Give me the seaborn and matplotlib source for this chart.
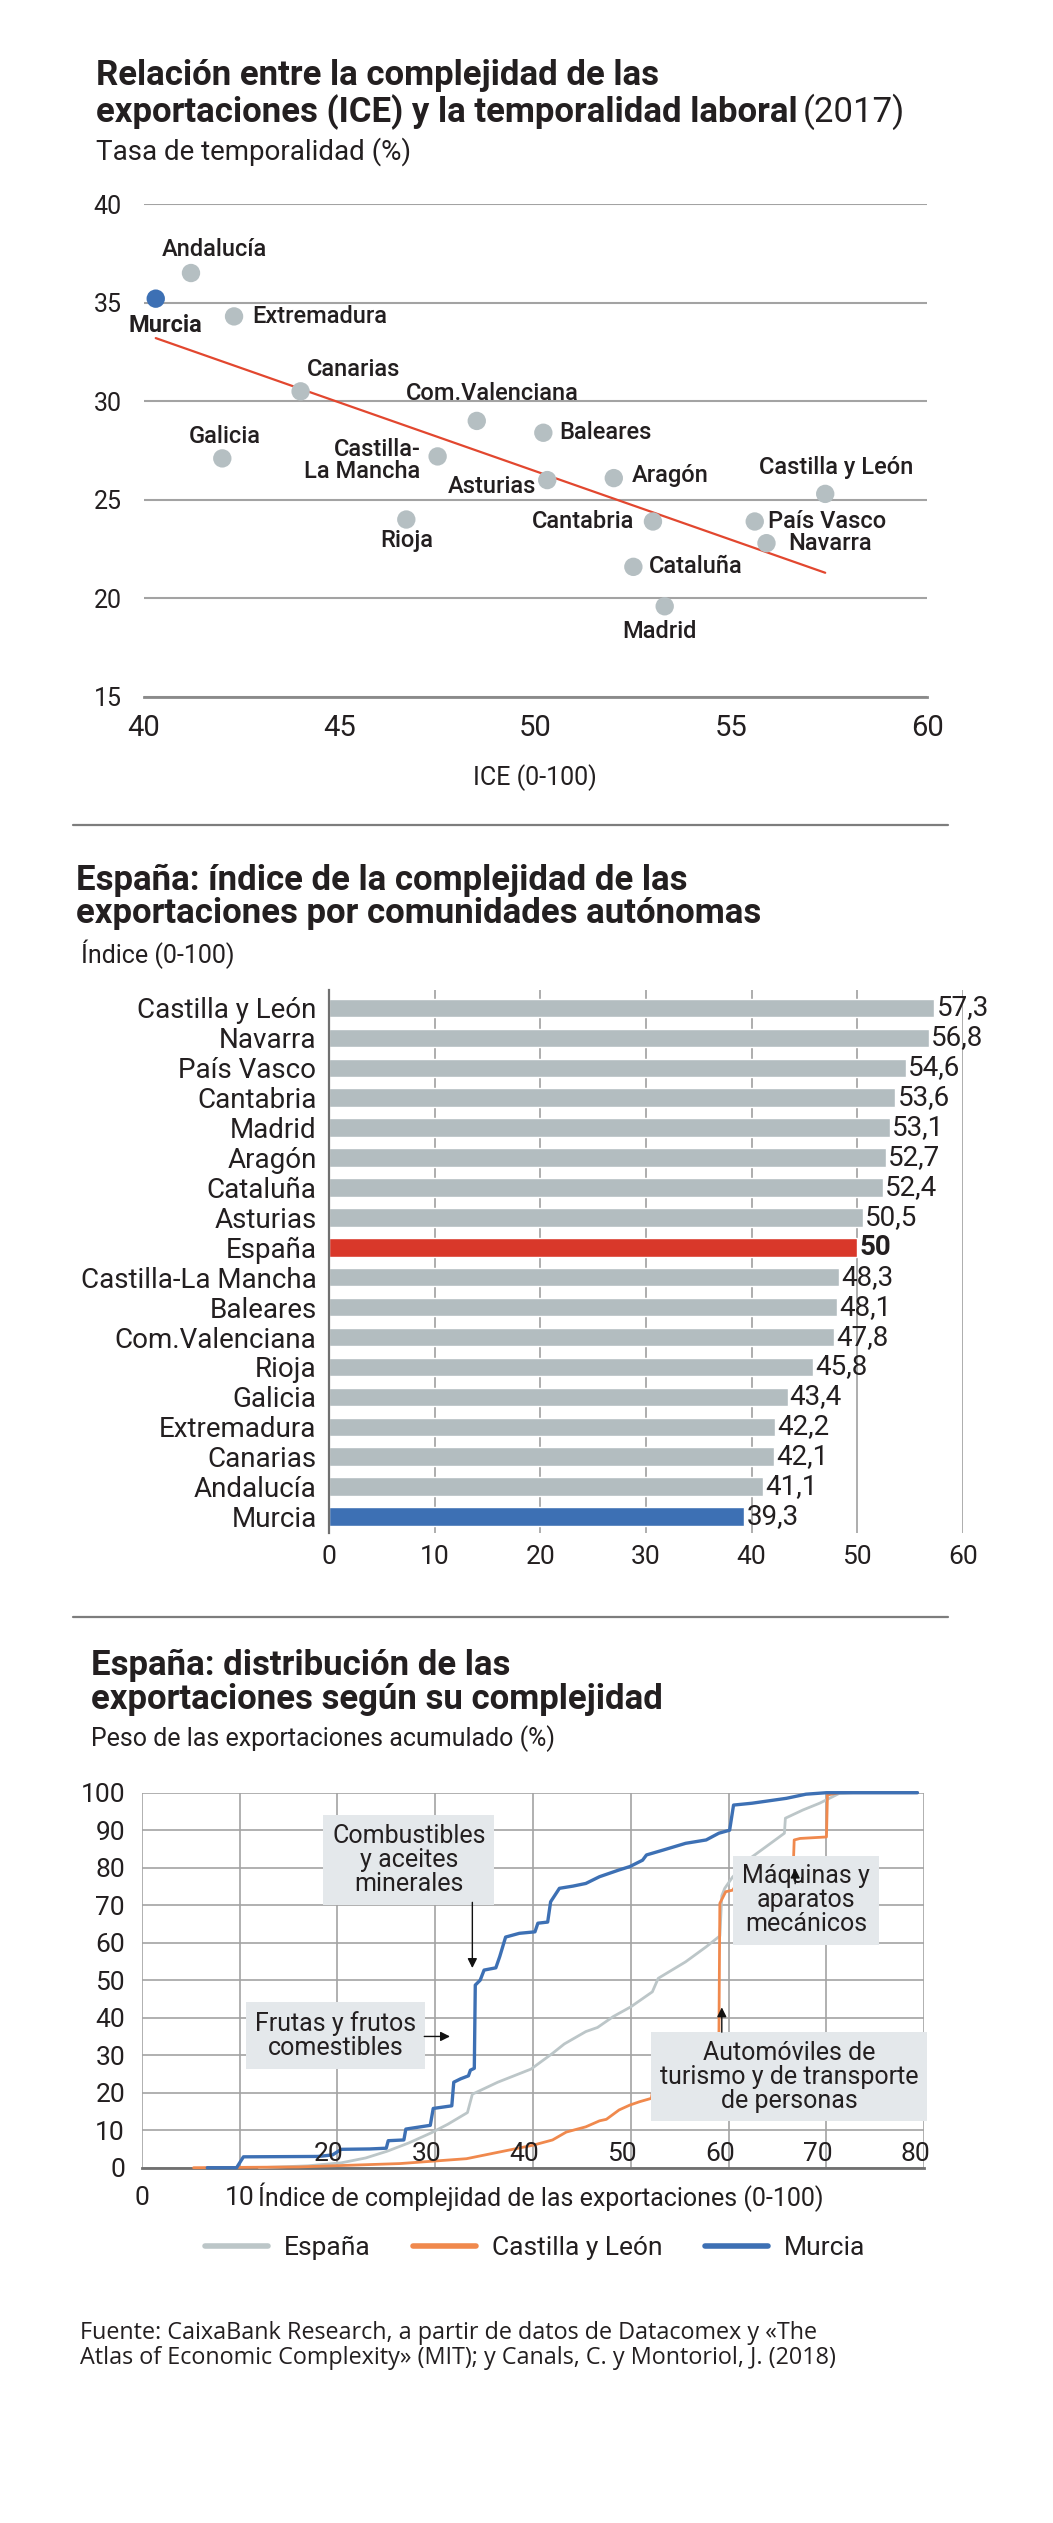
import numpy as np
import pandas as pd
import seaborn as sns
import matplotlib.pyplot as plt
from matplotlib.lines import Line2D

# ---- datos: dispersión ICE / temporalidad ----
regiones_sc = ['Murcia', 'Andalucía', 'Extremadura', 'Canarias', 'Galicia', 'Com.Valenciana',
               'Castilla-\nLa Mancha', 'Baleares', 'Asturias', 'Aragón', 'Rioja', 'Cantabria',
               'Cataluña', 'Madrid', 'Castilla y León', 'País Vasco', 'Navarra']
ice_sc = [40.3, 41.2, 42.3, 44.0, 42.0, 48.5, 47.5, 50.2, 50.3, 52.0, 46.7, 53.0, 52.5, 53.3, 57.4, 55.6, 55.9]
temporalidad = [35.2, 36.5, 34.3, 30.5, 27.1, 29.0, 27.2, 28.4, 26.0, 26.1, 24.0, 23.9, 21.6, 19.6, 25.3, 23.9, 22.8]
tendencia_x = [40.3, 57.4]
tendencia_y = [33.2, 21.3]

# ---- datos: barras ----
regiones_bar = ['Castilla y León', 'Navarra', 'País Vasco', 'Cantabria', 'Madrid', 'Aragón', 'Cataluña',
                'Asturias', 'España', 'Castilla-La Mancha', 'Baleares', 'Com.Valenciana', 'Rioja', 'Galicia',
                'Extremadura', 'Canarias', 'Andalucía', 'Murcia']
ice_bar = [57.3, 56.8, 54.6, 53.6, 53.1, 52.7, 52.4, 50.5, 50, 48.3, 48.1, 47.8, 45.8, 43.4, 42.2, 42.1, 41.1, 39.3]

# ---- datos: curvas acumuladas ----
murcia_x = [6.7, 9.7, 10.4, 18.0, 19.5, 20.4, 23.3, 25.0, 25.2, 26.8, 27.0, 29.5, 29.8, 31.7, 31.9, 32.6, 33.4,
            33.6, 34.0, 34.1, 34.6, 35.0, 36.2, 36.6, 37.2, 38.6, 40.2, 40.5, 41.5, 41.8, 42.7, 44.1, 45.4, 46.8,
            48.8, 49.9, 51.2, 51.6, 53.3, 55.6, 57.7, 59.0, 60.1, 60.5, 62.4, 65.9, 67.9, 70.0, 79.3]
murcia_y = [0, 0, 2.9, 3.0, 3.4, 4.9, 5.0, 5.2, 7.2, 7.4, 10.3, 11.3, 15.8, 16.5, 22.8, 23.7, 24.5,
            26.0, 26.5, 48.7, 50.0, 52.7, 53.3, 56.3, 61.5, 62.5, 62.9, 65.2, 65.5, 70.9, 74.5, 75.1, 75.8, 77.6,
            79.4, 80.3, 82.0, 83.4, 84.7, 86.5, 87.4, 89.2, 90.0, 96.7, 97.2, 98.5, 99.6, 100, 100]
espana_x = [12.0, 17.0, 20.4, 22.9, 25.1, 27.3, 29.6, 31.3, 33.3, 33.8, 36.4, 39.8, 42.0, 43.2, 45.4, 46.6,
            48.2, 50.0, 52.2, 52.8, 55.6, 57.7, 59.1, 59.3, 59.6, 60.4, 62.4, 64.5, 65.7, 65.8, 67.6, 69.3,
            71.3, 72.7, 79.3]
espana_y = [0, 0.5, 1.3, 2.6, 4.4, 6.6, 9.3, 11.6, 14.7, 19.6, 22.8, 26.3, 30.5, 33.0, 36.3, 37.4,
            40.3, 42.9, 46.9, 50.5, 54.9, 58.9, 61.8, 72.5, 74.5, 77.5, 82.9, 86.9, 89.2, 93.2, 95.4, 97.2,
            99.8, 100, 100]
cyl_x = [5.3, 16.0, 26.4, 33.2, 36.6, 40.0, 42.0, 43.4, 45.4, 46.8, 47.5, 48.8, 49.9, 50.9, 52.1, 52.4, 52.8,
         53.3, 55.0, 57.0, 59.0, 59.1, 59.7, 60.4, 61.1, 63.0, 65.0, 66.6, 66.7, 67.3, 70.0, 70.1, 71.3, 79.3]
cyl_y = [0, 0.2, 1.1, 2.4, 4.2, 6.0, 7.4, 9.5, 10.9, 12.5, 12.9, 15.4, 16.7, 17.6, 18.5, 23.4, 27.8,
         28.7, 30.0, 31.5, 33.0, 70.5, 73.6, 74.0, 76.7, 78.0, 79.0, 80.0, 87.4, 87.8, 88.2, 99.4, 100, 100]

W, H = 1053, 2523
TXT = '#231f20'
GRIS_PUNTO = '#b5bfc2'
GRIS_BARRA = '#b3bdc0'
AZUL = '#3d70b4'
ROJO = '#d9382a'
NARANJA = '#f0894d'
GRIS_LINEA = '#bcc6c8'
FUENTE = ['Roboto', 'DejaVu Sans']

sns.set_style('white')
plt.rcParams['font.family'] = FUENTE
plt.rcParams['text.color'] = TXT
plt.rcParams['xtick.color'] = TXT
plt.rcParams['ytick.color'] = TXT

fig = plt.figure(figsize=(W / 100, H / 100), dpi=100)


def box(left, top, right, bottom):
    return [left / W, 1 - bottom / H, (right - left) / W, (bottom - top) / H]


def ftext(x, y, s, **kw):
    kw.setdefault('va', 'center')
    return fig.text(x / W, 1 - y / H, s, **kw)


def separador(y):
    fig.add_artist(Line2D([73 / W, 948 / W], [1 - y / H, 1 - y / H], color='#7d7d7d', lw=1.6))


TIT = 25

# ================= gráfico 1 =================
ftext(96, 76, 'Relación entre la complejidad de las', fontsize=TIT, fontweight='bold')
t = ftext(96, 112, 'exportaciones (ICE) y la temporalidad laboral', fontsize=TIT, fontweight='bold')
fig.canvas.draw()
bb = t.get_window_extent()
ftext(bb.x1 + 5, 112, '(2017)', fontsize=TIT, fontweight='normal')
ftext(96, 152, 'Tasa de temporalidad (%)', fontsize=20)

ax1 = fig.add_axes(box(144, 204, 927, 697))
sc = pd.DataFrame({'region': regiones_sc, 'ice': ice_sc, 'temp': temporalidad})
sc['grupo'] = np.where(sc['region'] == 'Murcia', 'Murcia', 'Resto')
sns.lineplot(x=tendencia_x, y=tendencia_y, color='#e2472f', lw=1.6, ax=ax1, zorder=2)
sns.scatterplot(data=sc, x='ice', y='temp', hue='grupo', palette={'Murcia': AZUL, 'Resto': GRIS_PUNTO},
                s=175, linewidth=0, legend=False, ax=ax1, zorder=3, clip_on=False)

# desplazamiento de etiquetas (px)
etiq = {'Murcia': (10, 27, 'center'), 'Andalucía': (-29, -24, 'left'), 'Extremadura': (18, 0, 'left'),
        'Canarias': (6, -22, 'left'), 'Galicia': (2, -22, 'center'), 'Com.Valenciana': (16, -27, 'center'),
        'Castilla-\nLa Mancha': (-17, 4, 'right'), 'Baleares': (16, 0, 'left'), 'Asturias': (-11, 6, 'right'),
        'Aragón': (18, -3, 'left'), 'Rioja': (0, 21, 'center'), 'Cantabria': (-19, 0, 'right'),
        'Cataluña': (15, 0, 'left'), 'Madrid': (-5, 25, 'center'), 'Castilla y León': (11, -26, 'center'),
        'País Vasco': (13, 0, 'left'), 'Navarra': (22, 0, 'left')}
for _, r in sc.iterrows():
    dx, dy, ha = etiq[r['region']]
    ax1.annotate(r['region'], (r['ice'], r['temp']), xytext=(dx * 0.72, -dy * 0.72),
                 textcoords='offset points', ha=ha, va='center', fontsize=17,
                 fontweight='bold' if r['region'] == 'Murcia' else 'medium',
                 multialignment='right', linespacing=0.95)

ax1.set_xlim(40, 60)
ax1.set_ylim(15, 40)
ax1.set_xticks([40, 45, 50, 55, 60])
ax1.set_yticks([15, 20, 25, 30, 35, 40])
ax1.set_xlabel('')
ax1.set_ylabel('')
ax1.yaxis.grid(True, color='#a3a3a3', lw=1.5)
ax1.set_axisbelow(True)
for s in ['top', 'right', 'left']:
    ax1.spines[s].set_visible(False)
ax1.spines['bottom'].set_color('#8a8a8a')
ax1.spines['bottom'].set_linewidth(2)
ax1.tick_params(axis='x', direction='in', length=6, width=1.5, color='#8a8a8a', labelsize=21, pad=12)
ax1.tick_params(axis='y', length=0, labelsize=18, pad=16)
ftext(535, 778, 'ICE (0-100)', fontsize=18, ha='center')

separador(825)

# ================= gráfico 2 =================
ftext(76, 880, 'España: índice de la complejidad de las', fontsize=TIT, fontweight='bold')
ftext(76, 914, 'exportaciones por comunidades autónomas', fontsize=TIT, fontweight='bold')
ftext(81, 954, 'Índice (0-100)', fontsize=18)

ax2 = fig.add_axes(box(329, 990, 963, 1533))
barras = pd.DataFrame({'region': regiones_bar, 'valor': ice_bar})
pal = {r: GRIS_BARRA for r in regiones_bar}
pal['España'] = ROJO
pal['Murcia'] = AZUL
sns.barplot(data=barras, y='region', x='valor', hue='region', palette=pal, legend=False,
            width=0.62, orient='h', ax=ax2, saturation=1)
for c in ax2.containers:
    v = c.datavalues[0]
    lab = f'{v:g}'.replace('.', ',')
    ax2.bar_label(c, labels=[lab], padding=1.5, fontsize=20,
                  fontweight='bold' if lab == '50' else 'normal')
ax2.set_xlim(0, 60)
ax2.set_ylim(17.55, -0.6)
ax2.set_xticks(range(0, 61, 10))
ax2.set_xlabel('')
ax2.set_ylabel('')
ax2.xaxis.grid(True, color='#a0a0a0', lw=1.2)
ax2.set_axisbelow(True)
for s in ['top', 'right', 'bottom']:
    ax2.spines[s].set_visible(False)
ax2.spines['left'].set_color('#707070')
ax2.spines['left'].set_linewidth(1.6)
ax2.tick_params(axis='x', length=0, labelsize=19, pad=9)
ax2.tick_params(axis='y', length=0, labelsize=20, pad=9)

separador(1617)

# ================= gráfico 3 =================
ftext(91, 1665, 'España: distribución de las', fontsize=TIT, fontweight='bold')
ftext(91, 1700, 'exportaciones según su complejidad', fontsize=TIT, fontweight='bold')
ftext(91, 1739, 'Peso de las exportaciones acumulado (%)', fontsize=18)

ax3 = fig.add_axes(box(141.7, 1792.7, 924.3, 2167.7))
curvas = pd.concat([
    pd.DataFrame({'x': espana_x, 'y': espana_y, 'serie': 'España'}),
    pd.DataFrame({'x': cyl_x, 'y': cyl_y, 'serie': 'Castilla y León'}),
    pd.DataFrame({'x': murcia_x, 'y': murcia_y, 'serie': 'Murcia'}),
], ignore_index=True)
sns.lineplot(data=curvas, x='x', y='y', hue='serie',
             palette={'España': GRIS_LINEA, 'Castilla y León': NARANJA, 'Murcia': AZUL},
             estimator=None, sort=False, lw=2, ax=ax3, zorder=3)
for ln in ax3.lines:
    ln.set_clip_on(False)
    if ln.get_color() == AZUL:
        ln.set_linewidth(2.4)
h, l = ax3.get_legend_handles_labels()
ax3.get_legend().remove()
leg = fig.legend(h, l, loc='center', bbox_to_anchor=(535 / W, 1 - 2248 / H), ncol=3, frameon=False,
                 fontsize=19, handlelength=2.4, handletextpad=0.6, columnspacing=1.6)
for ln in leg.get_lines():
    ln.set_linewidth(4)

ax3.set_xlim(0, 80)
ax3.set_ylim(0, 100)
ax3.set_xticks(range(0, 81, 10))
ax3.set_xticklabels(['0', '10'] + [''] * 7)
ax3.set_yticks(range(0, 101, 10))
ax3.set_xlabel('')
ax3.set_ylabel('')
ax3.grid(True, color='#a3a3a3', lw=1.2)
ax3.set_axisbelow(True)
for s in ['top', 'right', 'left']:
    ax3.spines[s].set_visible(False)
ax3.spines['bottom'].set_color('#707070')
ax3.spines['bottom'].set_linewidth(2)
ax3.tick_params(axis='x', length=0, labelsize=19, pad=13)
ax3.tick_params(axis='y', length=0, labelsize=19, pad=12)
for v in range(20, 81, 10):
    ax3.text(v - 0.9, 3.6, str(v), ha='center', va='center', fontsize=19, zorder=4)
ftext(258, 2197, 'Índice de complejidad de las exportaciones (0-100)', fontsize=18)

caja = dict(boxstyle='square,pad=0.35', fc='#e4e8eb', ec='none')
ax3.text(27.3, 82, 'Combustibles\ny aceites\nminerales', ha='center', va='center', fontsize=18,
         bbox=caja, zorder=5, linespacing=1.0)
ax3.text(19.8, 35.3, 'Frutas y frutos\ncomestibles', ha='center', va='center', fontsize=18,
         bbox=caja, zorder=5, linespacing=1.0)
ax3.text(67.9, 71.3, 'Máquinas y\naparatos\nmecánicos', ha='center', va='center', fontsize=18,
         bbox=caja, zorder=5, linespacing=1.0)
ax3.text(66.2, 24.3, 'Automóviles de\nturismo y de transporte\nde personas', ha='center', va='center',
         fontsize=18, bbox=caja, zorder=5, linespacing=1.0)
flecha = dict(arrowstyle='-|>', color='#111111', lw=1, mutation_scale=14)
ax3.annotate('', xy=(33.8, 52.5), xytext=(33.8, 71.5), arrowprops=flecha, zorder=6)
ax3.annotate('', xy=(31.8, 35.0), xytext=(28.6, 35.0), arrowprops=flecha, zorder=6)
ax3.annotate('', xy=(66.8, 80.5), xytext=(66.8, 75.0), arrowprops=flecha, zorder=6)
ax3.annotate('', xy=(59.3, 43.5), xytext=(59.3, 35.4), arrowprops=flecha, zorder=6)

ftext(80, 2321, 'Fuente: CaixaBank Research, a partir de datos de Datacomex y «The\n'
      'Atlas of Economic Complexity» (MIT); y Canals, C. y Montoriol, J. (2018)',
      fontsize=16.8, family=['Open Sans', 'DejaVu Sans'], va='top', linespacing=1.08)

fig.savefig('out.png', dpi=100, facecolor='white')
